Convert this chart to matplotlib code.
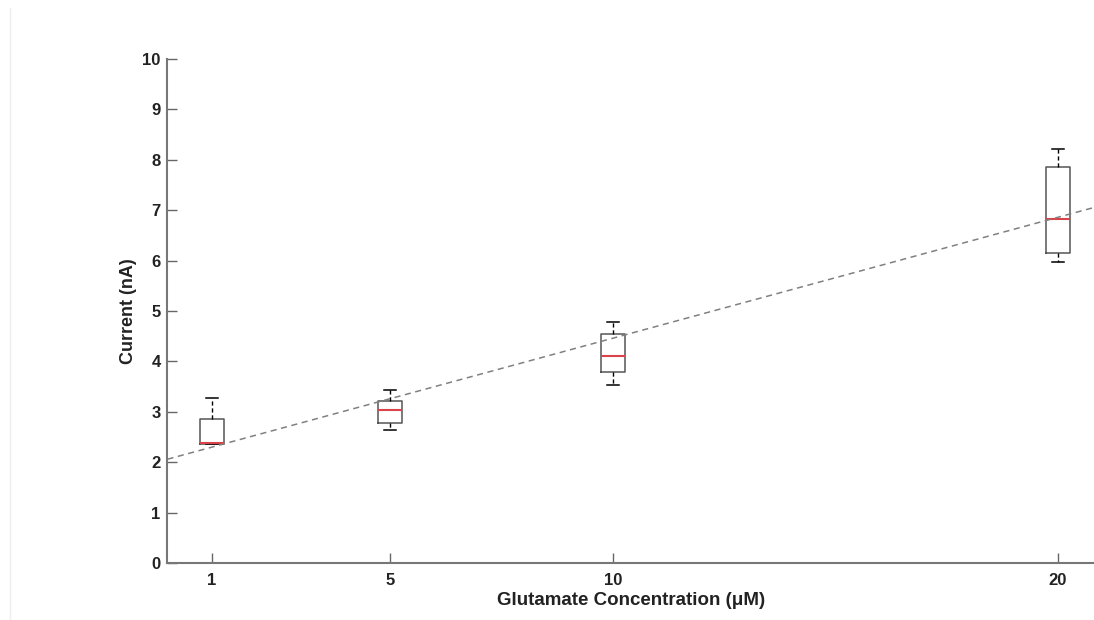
import matplotlib
matplotlib.use("Agg")
import matplotlib.pyplot as plt
from matplotlib.lines import Line2D

plt.rcParams['font.family'] = ['Liberation Sans', 'DejaVu Sans']

# concentrations (uM) and box statistics (nA)
conc = [1, 5, 10, 20]
whislo = [2.37, 2.63, 3.54, 5.98]
q1 = [2.37, 2.77, 3.79, 6.16]
med = [2.39, 3.04, 4.11, 6.83]
q3 = [2.86, 3.21, 4.54, 7.86]
whishi = [3.28, 3.43, 4.79, 8.21]

# linear fit shown as dashed line
fit_slope = 0.24
fit_intercept = 2.06

stats = []
for i in range(len(conc)):
    stats.append({'whislo': whislo[i], 'q1': q1[i], 'med': med[i],
                  'q3': q3[i], 'whishi': whishi[i], 'fliers': []})

fig = plt.figure(figsize=(10.94, 6.2), dpi=100)
ax = fig.add_axes([0.1531, 0.0919, 0.8469, 0.8129])

ax.bxp(stats, positions=conc, widths=0.54, capwidths=0.27, showfliers=False,
       boxprops=dict(color='#555555', linewidth=1.1),
       whiskerprops=dict(color='black', linestyle=(0, (3, 2)), linewidth=1.0),
       capprops=dict(color='black', linewidth=1.1),
       medianprops=dict(color='#d9444a', linewidth=1.5))

xlim = (0, 20.81)
xs = [xlim[0], xlim[1]]
ax.plot(xs, [fit_intercept + fit_slope * v for v in xs],
        color='#808080', linestyle=(0, (4, 3)), linewidth=1.1, zorder=3)

ax.set_xlim(*xlim)
ax.set_ylim(0, 10)
ax.set_xticks(conc)
ax.set_xticklabels([str(c) for c in conc])
ax.set_yticks(range(0, 11))

for s in ['top', 'right']:
    ax.spines[s].set_visible(False)
for s in ['left', 'bottom']:
    ax.spines[s].set_color('#777777')
    ax.spines[s].set_linewidth(1.5)

ax.tick_params(axis='both', direction='in', length=7, width=1.0, color='#666666',
               labelsize=12, labelcolor='#222222')
ax.tick_params(axis='x', pad=7)
ax.tick_params(axis='y', pad=5)
for lab in ax.get_xticklabels() + ax.get_yticklabels():
    lab.set_fontweight('bold')

ax.set_xlabel('Glutamate Concentration (μM)', fontsize=13.5, fontweight='bold',
              color='#222222', labelpad=3)
ax.set_ylabel('Current (nA)', fontsize=13, fontweight='bold',
              color='#222222', labelpad=4)

# faint frame line at the left edge of the picture
fig.add_artist(Line2D([0.0095, 0.0095], [0.0, 0.987], color='#eeeeee', linewidth=1.0))

fig.savefig('out.png', dpi=100)
